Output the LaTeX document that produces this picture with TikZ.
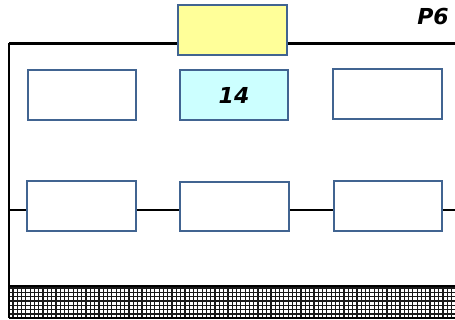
\documentclass[tikz,border=0pt]{standalone}
\usepackage{fontspec}
\setsansfont{DejaVu Sans}
\usepackage{xcolor}
\usetikzlibrary{positioning}
\definecolor{boxblue}{RGB}{65,100,145}
\definecolor{paleyellow}{RGB}{255,255,153}
\definecolor{palecyan}{RGB}{204,255,255}

\begin{document}
\begin{tikzpicture}[x=1pt, y=-1pt,
  card/.style={draw=boxblue, line width=2pt, fill=white,
    minimum width=108.5pt, minimum height=49.5pt, inner sep=0pt},
  wire/.style={black, line width=2.4pt},
  tag/.style={font=\sffamily\bfseries\itshape\fontsize{22}{26}\selectfont}]
  \useasboundingbox (0,0) rectangle (455,320);
  % Frame corners
  \coordinate (tl) at (9,43.5);
  \coordinate (tr) at (456,43.5);
  \coordinate (ml) at (9,210);
  \coordinate (mr) at (456,210);
  \coordinate (hl) at (9,286);
  \coordinate (hr) at (456,286);
  \coordinate (bl) at (9,318);
  \coordinate (br) at (456,318);
  % Hatched strip at the bottom
  \draw[black!90, line width=1.2pt, step=4.3pt] (hl) grid (br);
  \draw[wire] (hl) -- (hr);
  \draw[wire] (bl) -- (br);
  % Boxes
  \node[card, fill=paleyellow] (top) at (232.5,30) {};
  \node[card] (a1) at (82,95) {};
  \node[card, fill=palecyan, tag] (a2) at (234,95) {14};
  \node[card] (a3) at (387.5,94) {};
  \node[card] (b1) at (81.5,206) {};
  \node[card] (b2) at (234.5,206.5) {};
  \node[card] (b3) at (388,206) {};
  % Lines
  \draw[wire] (tl) -- (tl -| top.west);
  \draw[wire] (tr -| top.east) -- (tr);
  \draw[wire] (tl) -- (bl);
  \draw[wire] (ml) -- (ml -| b1.west);
  \draw[wire] (ml -| b1.east) -- (ml -| b2.west);
  \draw[wire] (ml -| b2.east) -- (ml -| b3.west);
  \draw[wire] (ml -| b3.east) -- (mr);
  % Label
  \node[tag] (page) at (433,17) {P6};
\end{tikzpicture}
\end{document}
